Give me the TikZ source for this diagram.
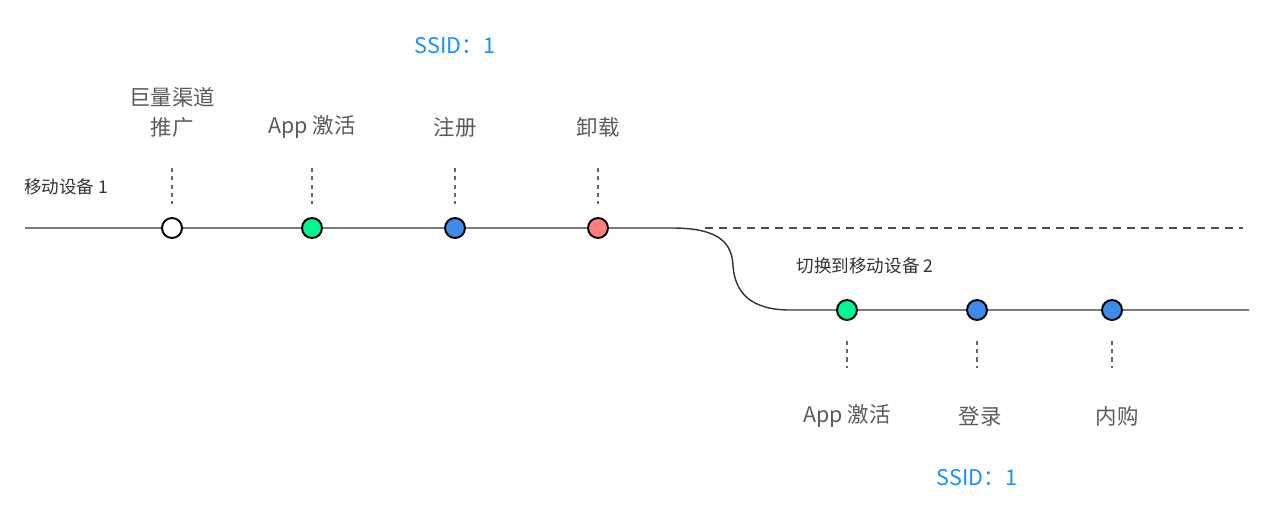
\documentclass[tikz,border=0pt]{standalone}
\usepackage{fontspec}
\setmainfont{Noto Sans CJK SC}
\usepackage{tikz}
\usetikzlibrary{positioning}
\usepackage{xcolor}
\definecolor{evgreen}{HTML}{00F593}
\definecolor{evblue}{HTML}{3D8AE8}
\definecolor{evred}{HTML}{FF7F7F}
\definecolor{ssidblue}{HTML}{1890FF}
\definecolor{txtgray}{HTML}{5A5A5A}

\tikzset{
  evt/.style={circle,draw=black,line width=1.1pt,minimum size=0.4cm,inner sep=0pt},
  tick/.style={draw=gray!80!black,line width=1.1pt,dash pattern=on 2.3pt off 2.4pt},
  tline/.style={draw=black!80,line width=0.8pt},
  lbl/.style={text=txtgray,font=\fontsize{12.2}{17}\selectfont,align=center},
  ssid/.style={text=ssidblue,font=\fontsize{12.3}{14}\selectfont},
  dev/.style={text=black!80,font=\fontsize{10}{12}\selectfont}
}

\begin{document}
\begin{tikzpicture}[x=0.02cm,y=-0.02cm,line cap=butt]
\useasboundingbox (0,0) rectangle (1280,504);
\node[evt,fill=white]    (n1) at (172,228) {};
\node[evt,fill=evgreen]  (n2) at (312,228) {};
\node[evt,fill=evblue]   (n3) at (455,228) {};
\node[evt,fill=evred]    (n4) at (598,228) {};
\node[evt,fill=evgreen]  (m1) at (847,310) {};
\node[evt,fill=evblue]   (m2) at (977,310) {};
\node[evt,fill=evblue]   (m3) at (1112,310) {};
\coordinate (a0) at (25,228);
\coordinate (b1) at (672,228);
\coordinate (b2) at (790,310);
\coordinate (b3) at (1249,310);
\coordinate (d0) at (705,228);
\coordinate (d1) at (1243,228);
\draw[tline] (a0) -- (n1) -- (n2) -- (n3) -- (n4) -- (b1)
  .. controls (722,228) and (732,245) .. (733,266)
  .. controls (735,292) and (750,310) .. (b2) -- (m1) -- (m2) -- (m3) -- (b3);
\draw[draw=black!70,line width=0.7pt,dash pattern=on 4.6pt off 3.4pt] (d0) -- (d1);
\foreach \n in {n1,n2,n3,n4}
  \draw[tick] ([yshift=1.2cm]\n.center) -- ([yshift=0.26cm]\n.north);
\foreach \n in {m1,m2,m3}
  \draw[tick] ([yshift=-0.4cm]\n.south) -- ([yshift=-1.16cm]\n.center);
\node[lbl] (l1) at (172,112) {巨量渠道\\推广};
\node[lbl] (l2) at (312,127) {App 激活};
\node[lbl] (l3) at (455,127) {注册};
\node[lbl] (l4) at (598,127) {卸载};
\node[lbl] (k1) at (847,416) {App 激活};
\node[lbl] (k2) at (980,416) {登录};
\node[lbl] (k3) at (1117,416) {内购};
\node[ssid] (s1) at (455,46) {SSID：1};
\node[ssid] (s2) at (977,478) {SSID：1};
\node[dev] (dev1) at (66,187) {移动设备 1};
\node[dev] (dev2) at (865,266) {切换到移动设备 2};
\end{tikzpicture}
\end{document}
